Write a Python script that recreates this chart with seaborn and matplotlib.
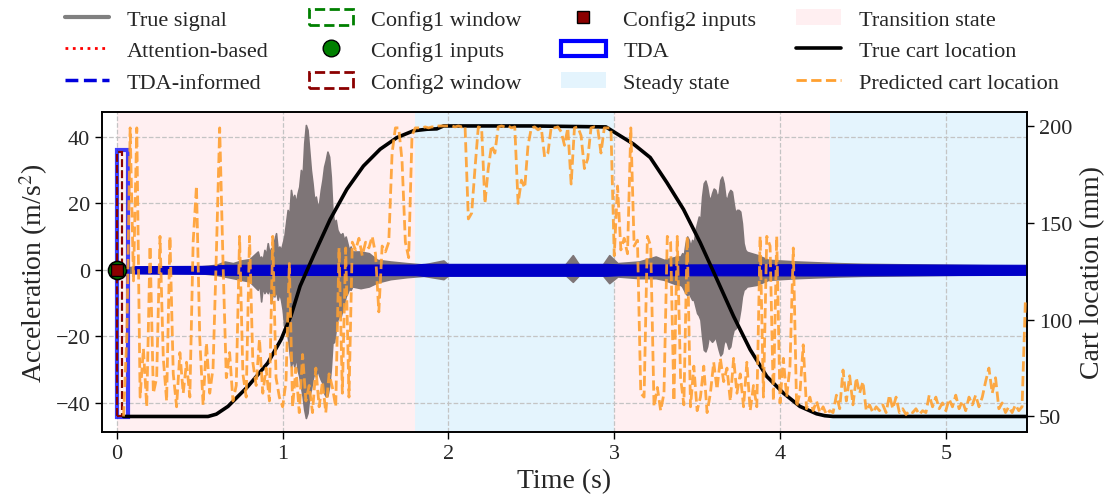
import numpy as np
import pandas as pd
import seaborn as sns
import matplotlib
matplotlib.use("Agg")
import matplotlib.pyplot as plt
from matplotlib.patches import Rectangle, Patch
from matplotlib.lines import Line2D

sns.set_theme(style="ticks")
plt.rcParams["font.family"] = ["Liberation Serif", "DejaVu Serif"]
plt.rcParams["mathtext.fontset"] = "stix"

# ---------------- data ----------------
# state regions (s)
transition_spans = [(0.0, 1.8), (3.0, 4.3)]
steady_spans = [(1.8, 3.0), (4.3, 5.5)]

# true acceleration signal envelope (dense oscillation shown as band)
grey_base_t = [0.00, 0.50, 0.60, 0.65, 0.70, 0.75, 0.80,
               1.47, 1.52, 1.57, 1.65, 1.75, 1.85, 1.97, 2.00, 2.70, 2.75, 2.79, 2.93,
               2.97, 3.02, 3.15, 3.25, 3.30, 3.38,
               3.86, 3.93, 4.10, 4.35, 4.50, 5.50]
grey_base_hi = [0.8, 1.0, 1.5, 2.5, 2.0, 2.8, 3.2,
                5.5, 5.0, 3.0, 2.5, 2.0, 1.6, 2.8, 1.5, 1.3, 4.4, 1.4, 1.5,
                4.4, 2.0, 2.5, 4.0, 3.0, 4.0,
                4.5, 3.0, 2.5, 2.0, 1.8, 1.2]
grey_base_lo = [-0.8, -1.0, -1.5, -2.0, -2.5, -3.0, -3.5,
                -5.5, -5.0, -3.8, -2.8, -2.2, -1.8, -2.8, -1.6, -1.3, -3.6, -1.5, -1.6,
                -4.0, -2.0, -2.5, -2.5, -3.0, -4.5,
                -4.5, -3.0, -2.5, -2.0, -1.8, -1.2]

# first burst, sampled every 0.01 s from 0.85 s
burst1_start, burst_step = 0.85, 0.01
burst1_hi = [5.5, 3.5, 4.0, 3.0, 6.0, 4.5, 8.0, 5.0, 6.5, 5.0, 9.0, 11.0, 6.0, 7.0, 6.0, 8.0,
             10, 14, 18, 16, 24, 21, 22.5, 20, 23, 25,
             30, 28, 38, 43.5, 42, 36, 30, 26, 21, 22,
             19, 20, 24, 27, 31, 33, 35.5, 34, 28, 18,
             14, 15, 12, 11, 10.5, 11, 9, 10, 8, 6,
             7, 5.5]
burst1_lo = [-6, -4, -9.5, -5, -7, -6, -7, -5, -10, -7, -8, -6, -9, -7, -9, -12,
             -17, -12, -20, -24, -29, -27, -29, -26, -30, -32,
             -35, -38, -42, -44.5, -43, -38, -36, -33, -31, -32,
             -30, -31.7, -33, -34, -37, -38, -37.8, -35, -30, -22,
             -21.7, -18, -15, -13.8, -14, -12, -10, -8, -7, -5.7,
             -6, -5]
# second burst, sampled every 0.01 s from 3.40 s
burst2_start = 3.40
burst2_hi = [4, 5, 4.5, 8, 10, 9, 7, 9, 8, 12,
             14, 16, 15, 22, 26, 26.8, 25, 22, 21, 23,
             24.4, 24, 22, 23, 27, 28, 26, 22, 21, 23,
             24, 23.5, 20, 17, 18, 18, 17.5, 14, 8, 6,
             5.4]
burst2_lo = [-4.5, -5, -6, -7, -7.6, -7, -8, -9, -9, -11,
             -13, -13.7, -15, -20, -24, -24.5, -23, -20, -21, -21.6,
             -21, -20, -22, -24, -25.7, -25, -22, -21, -22, -23.7,
             -23, -20, -18, -17.7, -17, -15, -12, -8, -6, -5.6,
             -5]

# TDA-informed prediction envelope
tdainf_t = [0.10, 0.55, 0.65, 1.80, 1.85, 2.95, 3.05, 4.30, 5.50]
tdainf_hi = [1.1, 1.2, 1.5, 1.6, 1.8, 1.8, 1.6, 1.7, 1.5]
tdainf_lo = [-1.1, -1.2, -1.5, -1.6, -1.8, -1.8, -1.6, -1.7, -1.5]

# TDA window and configuration inputs
tda_window = (0.0, 0.065)
tda_range = (-44.2, 35.9)
config1_window = (0.0, 0.03)
config2_window = (0.0, 0.03)
config_range = (-44.0, 35.5)
config1_input = (0.0, 0.0)
config2_input = (0.0, 0.0)

# true cart location (mm)
cart_t = [0.04, 0.55, 0.60, 0.67, 0.79, 0.91, 0.99, 1.05, 1.105, 1.185, 1.286, 1.387, 1.487,
          1.588, 1.689, 1.789, 1.87, 1.93, 1.97, 2.50, 2.95, 3.036, 3.117, 3.217, 3.318,
          3.418, 3.519, 3.62, 3.72, 3.82, 3.92, 4.02, 4.12, 4.22, 4.27, 4.32, 5.49]
cart_v = [50, 50, 51.2, 55.2, 65.5, 77.6, 89.7, 102, 117.3, 132.8, 151.7, 167.3, 179.3,
          188, 194, 197.5, 198.3, 198.5, 200, 200, 199.5, 194.9, 190.6, 183.7, 170.7,
          156.9, 139.7, 120.7, 101.7, 84.5, 70.7, 62.1, 55.2, 51.4, 50.4, 50, 50]

# predicted cart location (mm), sampled every 0.02 s from 0.04 s
pred_start, pred_step = 0.04, 0.02
pred_cart = [
    50, 92, 199, 120, 199, 60, 85, 55, 138, 62,
    70, 143, 80, 58, 143, 72, 55, 83, 62, 78,
    60, 140, 169, 90, 56, 88, 62, 75, 134, 199,
    130, 70, 83, 58, 66, 143, 72, 60, 143, 78,
    66, 90, 62, 75, 58, 143, 70, 60, 55, 68,
    129, 55, 75, 52, 82, 58, 66, 52, 75, 55,
    68, 52, 72, 65, 55, 137, 62, 137, 60, 140,
    136, 142, 133, 140, 137, 143, 134, 104, 138, 135,
    140, 186, 199, 199, 182, 140, 132, 195, 199, 199,
    199, 199.5, 199, 199.5, 199.5, 200, 200, 200, 200, 200,
    199.5, 200, 199.5, 200, 152, 155, 178, 199.5, 199, 160,
    178, 190, 186, 199.5, 200, 199.5, 200, 199, 199.5, 160,
    172, 168, 190, 199, 199.5, 198, 199, 184, 186, 199.5,
    199, 199.5, 197, 190, 199, 170, 199, 199.5, 195, 178,
    183, 199, 199.5, 199, 186, 199, 199, 199,
    133, 169, 136, 142, 134, 199, 138, 141, 62, 60,
    143, 138, 55, 65, 53, 62, 143, 140, 58, 143,
    70, 56, 143, 55, 76, 53, 60, 76, 52, 62,
    78, 64, 80, 68, 75, 58, 80, 62, 72, 55,
    78, 53, 66, 55, 143, 60, 143, 138, 58, 143,
    57, 80, 60, 76, 137, 55, 62, 87, 54, 60,
    53, 58, 52, 55, 51, 53, 52, 61, 54, 74,
    58, 71, 56, 70, 62, 68, 53, 56, 52, 55,
    53, 56, 52, 61, 54, 60, 52, 54, 51, 53,
    52, 54, 51, 53, 52, 61, 55, 60, 54, 57,
    53, 59, 55, 61, 54, 58, 53, 60, 56, 61,
    55, 60, 68, 75, 62, 70, 54, 57, 52, 55,
    52, 56, 53, 55, 110,
]

# assemble sampled series
pred_t = np.round(pred_start + pred_step * np.arange(len(pred_cart)), 3)
b1_t = np.round(burst1_start + burst_step * np.arange(len(burst1_hi)), 3)
b2_t = np.round(burst2_start + burst_step * np.arange(len(burst2_hi)), 3)
grey_df = pd.DataFrame({
    "t": np.concatenate([grey_base_t, b1_t, b2_t]),
    "hi": np.concatenate([grey_base_hi, burst1_hi, burst2_hi]),
    "lo": np.concatenate([grey_base_lo, burst1_lo, burst2_lo]),
}).sort_values("t")

# ---------------- colours ----------------
c_grey = "#7e7577"
c_blue = "#0000c8"
c_orange = "#ffa030"
c_steady = "lightskyblue"
c_trans = "pink"

# ---------------- figure ----------------
fig = plt.figure(figsize=(11.12, 5.02), dpi=100)
ax = fig.add_axes([0.0917, 0.1375, 0.8319, 0.6374])

for a, b in transition_spans:
    ax.axvspan(a, b, color=c_trans, alpha=0.25, lw=0, zorder=0)
for a, b in steady_spans:
    ax.axvspan(a, b, color=c_steady, alpha=0.22, lw=0, zorder=0)

ax.fill_between(grey_df["t"], grey_df["lo"], grey_df["hi"], color=c_grey, lw=1.2,
                edgecolor=c_grey, zorder=2)
ax.fill_between(tdainf_t, tdainf_lo, tdainf_hi, color=c_blue, lw=0.8,
                edgecolor=c_blue, zorder=3)

ax.add_patch(Rectangle((tda_window[0], tda_range[0]), tda_window[1] - tda_window[0],
                       tda_range[1] - tda_range[0], fill=False, edgecolor="blue",
                       lw=3, alpha=0.75, zorder=4))
ax.add_patch(Rectangle((config1_window[0], config_range[0]), config1_window[1] - config1_window[0],
                       config_range[1] - config_range[0], fill=False, edgecolor="green",
                       ls="--", lw=1.5, zorder=4))
ax.add_patch(Rectangle((config2_window[0], config_range[0]), config2_window[1] - config2_window[0],
                       config_range[1] - config_range[0], fill=False, edgecolor="darkred",
                       ls="--", lw=1.5, zorder=4))
ax.plot([config1_input[0]], [config1_input[1]], marker="o", color="green", mec="black",
        ms=13, mew=1.2, ls="none", zorder=6)
ax.plot([config2_input[0]], [config2_input[1]], marker="s", color="darkred", mec="black",
        ms=9, mew=1.0, ls="none", zorder=7)

ax.set_xlim(-0.09, 5.49)
ax.set_ylim(-48.7, 47.4)
ax.set_xticks([0, 1, 2, 3, 4, 5])
ax.set_yticks([-40, -20, 0, 20, 40])
ax.set_axisbelow("line")
ax.grid(True, linestyle="--", color="#c4c4c4", lw=0.9)
ax.set_xlabel("Time (s)", fontsize=20, labelpad=4)
ax.set_ylabel("Acceleration (m/s$^2$)", fontsize=20, labelpad=4)
ax.tick_params(labelsize=16, length=5, width=1.0, direction="out", color="black")

ax2 = ax.twinx()
cart_df = pd.DataFrame({"t": cart_t, "loc": cart_v})
pred_df = pd.DataFrame({"t": pred_t, "loc": pred_cart})
sns.lineplot(data=cart_df, x="t", y="loc", ax=ax2, color="black", lw=2.6,
             estimator=None, sort=False, zorder=3)
sns.lineplot(data=pred_df, x="t", y="loc", ax=ax2, color=c_orange, lw=2.0,
             linestyle="--", alpha=0.9, estimator=None, sort=False, zorder=4)
ax2.set_ylim(42.0, 207.2)
ax2.set_yticks([50, 100, 150, 200])
ax2.set_ylabel("Cart location (mm)", fontsize=20, labelpad=6)
ax2.set_xlabel("")
ax2.tick_params(labelsize=16, length=5, width=1.0, direction="out", color="black")
ax2.grid(False)

for a in (ax, ax2):
    for s in a.spines.values():
        s.set_color("black")
        s.set_linewidth(1.2)
        s.set_visible(True)

handles = [
    Line2D([], [], color="grey", lw=3),
    Line2D([], [], color="red", ls=":", lw=2),
    Line2D([], [], color="#0000dd", ls="--", lw=2.5),
    Patch(facecolor="none", edgecolor="green", ls="--", lw=2),
    Line2D([], [], marker="o", color="green", mec="black", ls="none", ms=12),
    Patch(facecolor="none", edgecolor="darkred", ls="--", lw=2),
    Line2D([], [], marker="s", color="darkred", mec="black", ls="none", ms=8),
    Patch(facecolor="none", edgecolor="blue", lw=3),
    Patch(facecolor=c_steady, alpha=0.22, lw=0),
    Patch(facecolor=c_trans, alpha=0.25, lw=0),
    Line2D([], [], color="black", lw=2.6),
    Line2D([], [], color=c_orange, ls="--", lw=2),
]
labels = ["True signal", "Attention-based", "TDA-informed", "Config1 window",
          "Config1 inputs", "Config2 window", "Config2 inputs", "TDA",
          "Steady state", "Transition state", "True cart location",
          "Predicted cart location"]
fig.legend(handles, labels, loc="upper center", bbox_to_anchor=(0.505, 1.02),
           ncol=4, frameon=False, fontsize=16, columnspacing=1.8)

fig.savefig("out.png", dpi=100)
